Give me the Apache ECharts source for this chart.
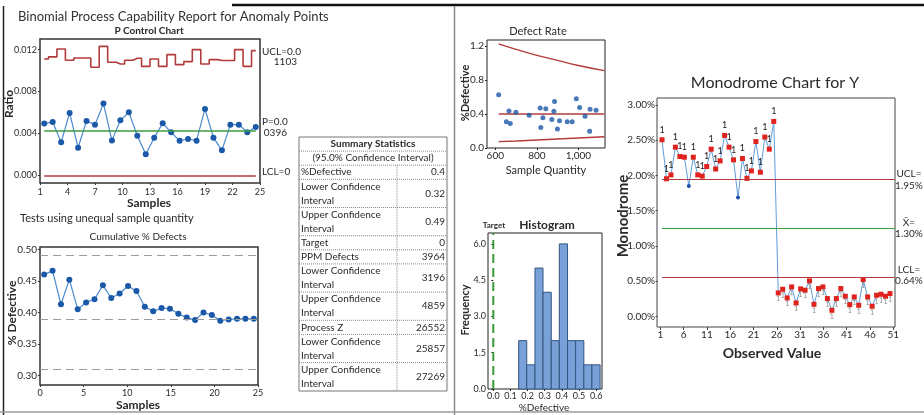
<!DOCTYPE html>
<html lang="en">
<head>
<meta charset="UTF-8">
<title>Binomial Process Capability Report for Anomaly Points</title>
<script src="https://cdn.jsdelivr.net/npm/echarts@6/dist/echarts.min.js"></script>
<style>
  html, body { margin: 0; padding: 0; background: #fff; }
  #main { width: 924px; height: 415px; }
</style>
</head>
<body>
<div id="main"></div>
<script>
// ---- fonts / colours ----
const NARROW = "Lato, 'Open Sans', sans-serif";
const NORMAL = "Lato, 'Open Sans', sans-serif";
const TXT = '#2a2a2a';
const RED = '#b23b3b';
const GREEN = '#3e9d3e';
const DOT = '#1b58a8';
const LINK = '#4a88cc';

// ---- P control chart ----
const pRatio = [0.00494, 0.00510, 0.00315, 0.00596, 0.00264, 0.00519, 0.00484, 0.00685, 0.00334, 0.00525,
                0.00602, 0.00379, 0.00201, 0.00360, 0.00497, 0.00411, 0.00331, 0.00347, 0.00331, 0.00634,
                0.00360, 0.00239, 0.00484, 0.00484, 0.00411, 0.00462];
const pUcl = [0.01111, 0.01131, 0.01207, 0.01099, 0.01121, 0.01121, 0.01032, 0.01232, 0.01080, 0.01064,
              0.01099, 0.01118, 0.01041, 0.01111, 0.01041, 0.01153, 0.01057, 0.01086, 0.01201, 0.01064,
              0.01105, 0.01096, 0.01096, 0.01201, 0.01041, 0.01191];
const pCenter = 0.0043;
const pLcl = 0;
const pYTicks = [0, 0.004, 0.008, 0.012];
const pCats = pRatio.map((v, i) => String(i + 1));

// ---- cumulative % defects ----
const cumPct = [0.460, 0.466, 0.413, 0.452, 0.405, 0.416, 0.421, 0.443, 0.423, 0.430,
                0.442, 0.434, 0.409, 0.402, 0.407, 0.406, 0.398, 0.392, 0.388, 0.400,
                0.396, 0.387, 0.389, 0.390, 0.390, 0.390];
const cumBands = [0.487, 0.390, 0.308];
const cumYTicks = [0.30, 0.35, 0.40, 0.45, 0.50];
const cumCats = cumPct.map((v, i) => String(i + 1));

// ---- defect rate ----
const rateQty = [616, 653, 666, 672, 699, 763, 816, 819, 829, 843, 872, 882, 885, 899, 909, 946, 970, 990, 1006, 1032, 1054, 1056, 1085];
const ratePct = [0.626, 0.308, 0.436, 0.289, 0.421, 0.386, 0.471, 0.242, 0.355, 0.463, 0.335, 0.432, 0.548, 0.223, 0.320, 0.308, 0.308, 0.579, 0.475, 0.374, 0.196, 0.455, 0.444];
const limitQty = [616, 700, 800, 900, 1000, 1125];
const rateUcl = [1.225, 1.16, 1.09, 1.03, 0.97, 0.91];
const rateLcl = [0.075, 0.083, 0.094, 0.106, 0.118, 0.132];
const rateCenter = 0.400;
const rateXTicks = [600, 800, 1000];
const rateYTicks = [0, 0.4, 0.8, 1.2];

// ---- histogram ----
const histEdges = [0.148, 0.195, 0.243, 0.290, 0.338, 0.385, 0.433, 0.480, 0.528, 0.575, 0.623];
const histCounts = [2, 1, 5, 4, 2, 6, 2, 2, 1, 1];
const histTarget = 0;
const histXTicks = [0, 0.1, 0.2, 0.3, 0.4, 0.5, 0.6];
const histYTicks = [0, 1.5, 3, 4.5, 6];

// ---- monodrome chart ----
const monoValues = [2.505, 1.952, 2.007, 2.40, 2.268, 2.258, 1.85, 2.258, 2.007, 1.99,
                    2.126, 2.372, 2.09, 2.206, 2.566, 2.40, 2.22, 1.685, 2.239, 1.958,
                    2.064, 2.48, 2.045, 2.543, 2.372, 2.765,
                    0.334, 0.386, 0.263, 0.419, 0.192, 0.391, 0.372, 0.505, 0.173, 0.396,
                    0.419, 0.254, 0.088, 0.254, 0.396, 0.287, 0.168, 0.277, 0.159, 0.524,
                    0.277, 0.145, 0.301, 0.315, 0.287, 0.325];
const monoUcl = 1.95;
const monoCenter = 1.25;
const monoLcl = 0.56;
const monoXTicks = [1, 6, 11, 16, 21, 26, 31, 36, 41, 46, 51];
const monoYTicks = [0, 0.5, 1, 1.5, 2, 2.5, 3];

// summary table
const tableHead = 'Summary Statistics';
const tableSub = '(95.0% Confidence Interval)';
const tableLabels = ['%Defective', 'Lower Confidence\nInterval', 'Upper Confidence\nInterval', 'Target', 'PPM Defects',
                     'Lower Confidence\nInterval', 'Upper Confidence\nInterval', 'Process Z',
                     'Lower Confidence\nInterval', 'Upper Confidence\nInterval'];
const tableValues = ['0.4', '0.32', '0.49', '0', '3964', '3196', '4859', '26552', '25857', '27269'];

let chart = echarts.init(document.getElementById('main'));

function label(size, family) {
    return { fontFamily: family || NARROW, fontSize: size, color: TXT };
}
function txt(text, x, y, font, opts) {
    return Object.assign({
        type: 'text', x: x, y: y,
        style: { text: text, font: font, fill: TXT, textAlign: 'center', textVerticalAlign: 'middle' }
    }, opts || {});
}
function ltxt(text, x, y, font, align) {
    return { type: 'text', x: x, y: y,
        style: { text: text, font: font, fill: TXT, textAlign: align || 'left', textVerticalAlign: 'middle' } };
}
function vtxt(text, x, y, font) {
    return txt(text, x, y, font, { rotation: Math.PI / 2 });
}

// table built from the arrays above
const TX0 = 299, TX1 = 447, TDIV = 397, TY0 = 137, RH = 14.1;
let tableEls = [];
let ty = TY0;
function hline(y) {
    tableEls.push({ type: 'line', shape: { x1: TX0, y1: y, x2: TX1, y2: y },
        style: { stroke: '#888', lineWidth: 1, lineDash: [1, 1] } });
}
tableEls.push({ type: 'rect', shape: { x: TX0, y: TY0, width: TX1 - TX0, height: 254 },
    style: { fill: '#fff', stroke: '#777', lineWidth: 1 } });
tableEls.push(txt(tableHead, (TX0 + TX1) / 2, ty + RH / 2, 'bold 10px ' + NARROW));
ty += RH; hline(ty);
tableEls.push(txt(tableSub, (TX0 + TX1) / 2, ty + RH / 2, '10px ' + NARROW));
ty += RH; hline(ty);
const divTop = ty;
tableLabels.forEach(function (lab, i) {
    const h = RH * lab.split('\n').length;
    tableEls.push({ type: 'text', x: TX0 + 2, y: ty + h / 2,
        style: { text: lab, font: '10px ' + NARROW, fill: TXT, lineHeight: RH, textAlign: 'left', textVerticalAlign: 'middle' } });
    tableEls.push({ type: 'text', x: TX1 - 2, y: ty + h / 2,
        style: { text: tableValues[i], font: '10px ' + NARROW, fill: TXT, textAlign: 'right', textVerticalAlign: 'middle' } });
    ty += h;
    if (i < tableLabels.length - 1) hline(ty);
});
tableEls.push({ type: 'line', shape: { x1: TDIV, y1: divTop, x2: TDIV, y2: ty },
    style: { stroke: '#888', lineWidth: 1, lineDash: [1, 1] } });

const gridBase = { show: true, backgroundColor: 'transparent', containLabel: false, outerBoundsMode: 'none' };
const noSplit = { show: false };

let option = {
    animation: false,
    grid: [
        Object.assign({ left: 40, top: 39, width: 220, height: 144, borderColor: '#333', borderWidth: 1.5 }, gridBase),
        Object.assign({ left: 40, top: 247, width: 218, height: 138, borderColor: '#333', borderWidth: 1.5 }, gridBase),
        Object.assign({ left: 487, top: 40, width: 118, height: 108, borderColor: '#222', borderWidth: 1 }, gridBase),
        Object.assign({ left: 488, top: 233, width: 114, height: 156, borderColor: '#222', borderWidth: 1 }, gridBase),
        Object.assign({ left: 657, top: 98, width: 238, height: 229, borderColor: '#444', borderWidth: 1 }, gridBase)
    ],
    xAxis: [
        { type: 'category', gridIndex: 0, data: pCats, show: false },
        { type: 'value', gridIndex: 0, position: 'bottom', min: 1, max: 25, interval: 3,
          axisLine: { show: false }, splitLine: noSplit,
          axisTick: { length: 2, lineStyle: { color: '#333' } },
          axisLabel: Object.assign(label(9), { margin: 5 }) },
        { type: 'category', gridIndex: 1, data: cumCats, show: false },
        { type: 'value', gridIndex: 1, position: 'bottom', min: 0, max: 25, interval: 5,
          axisLine: { show: false }, splitLine: noSplit,
          axisTick: { length: 2, lineStyle: { color: '#333' } },
          axisLabel: Object.assign(label(9), { margin: 4 }) },
        { type: 'value', gridIndex: 2, min: 560, max: 1128,
          axisLine: { show: false }, splitLine: noSplit,
          axisTick: { length: 2, customValues: rateXTicks, lineStyle: { color: '#222' } },
          axisLabel: Object.assign(label(10, NORMAL), { margin: 3, customValues: rateXTicks }) },
        { type: 'value', gridIndex: 3, min: -0.031, max: 0.634,
          axisLine: { show: false }, splitLine: noSplit,
          axisTick: { length: 2, customValues: histXTicks, lineStyle: { color: '#222' } },
          axisLabel: Object.assign(label(9), { margin: 3, customValues: histXTicks,
              formatter: function (v) { return v.toFixed(1); } }) },
        { type: 'value', gridIndex: 4, min: -0.12, max: 53.12, show: false },
        { type: 'value', gridIndex: 4, position: 'bottom', min: 0.29, max: 51.36,
          axisLine: { show: false }, splitLine: noSplit,
          axisTick: { length: 3, customValues: monoXTicks, lineStyle: { color: '#444' } },
          axisLabel: Object.assign(label(10, NORMAL), { margin: 3, customValues: monoXTicks }) }
    ],
    yAxis: [
        { type: 'value', gridIndex: 0, min: -0.00073, max: 0.01302,
          axisLine: { show: false }, splitLine: noSplit,
          axisTick: { length: 2, customValues: pYTicks, lineStyle: { color: '#333' } },
          axisLabel: Object.assign(label(9), { margin: 3, customValues: pYTicks,
              formatter: function (v) { return v.toFixed(3); } }) },
        { type: 'value', gridIndex: 1, min: 0.2853, max: 0.5037,
          axisLine: { show: false }, splitLine: noSplit,
          axisTick: { length: 2, customValues: cumYTicks, lineStyle: { color: '#333' } },
          axisLabel: Object.assign(label(10), { margin: 3, customValues: cumYTicks,
              formatter: function (v) { return v.toFixed(2); } }) },
        { type: 'value', gridIndex: 2, min: 0, max: 1.27,
          axisLine: { show: false }, splitLine: noSplit,
          axisTick: { length: 2, customValues: rateYTicks, lineStyle: { color: '#222' } },
          axisLabel: Object.assign(label(10, NORMAL), { margin: 3, customValues: rateYTicks,
              formatter: function (v) { return v.toFixed(1); } }) },
        { type: 'value', gridIndex: 3, min: 0, max: 6.45,
          axisLine: { show: false }, splitLine: noSplit,
          axisTick: { length: 2, customValues: histYTicks, lineStyle: { color: '#222' } },
          axisLabel: Object.assign(label(9), { margin: 2, customValues: histYTicks,
              formatter: function (v) { return v.toFixed(1); } }) },
        { type: 'value', gridIndex: 4, min: -0.149, max: 3.097,
          axisLine: { show: false }, splitLine: noSplit,
          axisTick: { length: 2, customValues: monoYTicks, lineStyle: { color: '#444' } },
          axisLabel: Object.assign(label(10, NORMAL), { margin: 2, customValues: monoYTicks,
              formatter: function (v) { return v.toFixed(2) + '%'; } }) }
    ],
    series: [
        // P chart
        { type: 'line', xAxisIndex: 0, yAxisIndex: 0, data: pUcl, step: 'middle', showSymbol: false, silent: true, z: 2,
          lineStyle: { color: RED, width: 1.6 },
          markLine: { silent: true, symbol: 'none', label: { show: false },
              data: [
                  [{ coord: [pCats[0], pCenter], lineStyle: { color: GREEN, width: 1.6, type: 'solid' } },
                   { coord: [pCats[pCats.length - 1], pCenter] }],
                  [{ coord: [pCats[0], pLcl], lineStyle: { color: RED, width: 1.6, type: 'solid' } },
                   { coord: [pCats[pCats.length - 1], pLcl] }]
              ] } },
        { type: 'line', xAxisIndex: 0, yAxisIndex: 0, data: pRatio, symbol: 'circle', symbolSize: 6, z: 3,
          showAllSymbol: true,
          itemStyle: { color: DOT }, lineStyle: { color: LINK, width: 1.2 } },

        // cumulative
        { type: 'line', xAxisIndex: 2, yAxisIndex: 1, data: [], z: 1,
          markLine: { silent: true, symbol: 'none', label: { show: false },
              lineStyle: { color: '#9c9c9c', width: 1.2, type: [8, 5] },
              data: cumBands.map(function (v) { return { yAxis: v }; }) } },
        { type: 'line', xAxisIndex: 2, yAxisIndex: 1, data: cumPct, symbol: 'circle', symbolSize: 6, z: 3,
          showAllSymbol: true,
          itemStyle: { color: DOT }, lineStyle: { color: LINK, width: 1.2 } },

        // defect rate
        { type: 'line', xAxisIndex: 4, yAxisIndex: 2, smooth: true, showSymbol: false, z: 2,
          data: limitQty.map(function (q, i) { return [q, rateUcl[i]]; }),
          lineStyle: { color: RED, width: 1.4 } },
        { type: 'line', xAxisIndex: 4, yAxisIndex: 2, smooth: true, showSymbol: false, z: 2,
          data: limitQty.map(function (q, i) { return [q, rateLcl[i]]; }),
          lineStyle: { color: RED, width: 1.4 } },
        { type: 'line', xAxisIndex: 4, yAxisIndex: 2, showSymbol: false, z: 2,
          data: [[limitQty[0], rateCenter], [limitQty[limitQty.length - 1], rateCenter]],
          lineStyle: { color: RED, width: 1.4 } },
        { type: 'scatter', xAxisIndex: 4, yAxisIndex: 2, symbolSize: 5, z: 3,
          data: rateQty.map(function (q, i) { return [q, ratePct[i]]; }),
          itemStyle: { color: DOT } },

        // histogram
        { type: 'custom', xAxisIndex: 5, yAxisIndex: 3, z: 2,
          data: histCounts.map(function (c, i) { return [histEdges[i], histEdges[i + 1], c]; }),
          encode: { x: [0, 1], y: 2 },
          renderItem: function (params, api) {
              const p0 = api.coord([api.value(0), api.value(2)]);
              const p1 = api.coord([api.value(1), 0]);
              return { type: 'rect',
                  shape: { x: p0[0], y: p0[1], width: p1[0] - p0[0], height: p1[1] - p0[1] },
                  style: { fill: '#78a1d8', stroke: '#34557f', lineWidth: 1 } };
          } },
        { type: 'line', xAxisIndex: 5, yAxisIndex: 3, showSymbol: false, z: 4,
          data: [[histTarget, 0], [histTarget, 6.45]],
          lineStyle: { color: '#3a9a3a', width: 2, type: [9, 5] } },

        // monodrome
        { type: 'line', xAxisIndex: 6, yAxisIndex: 4, data: [], z: 1,
          markLine: { silent: true, symbol: 'none', label: { show: false },
              data: [
                  [{ coord: [1, monoUcl], lineStyle: { color: RED, width: 1.2, type: 'solid' } }, { coord: [53.12, monoUcl] }],
                  [{ coord: [1, monoCenter], lineStyle: { color: GREEN, width: 1.2, type: 'solid' } }, { coord: [53.12, monoCenter] }],
                  [{ coord: [1, monoLcl], lineStyle: { color: RED, width: 1.2, type: 'solid' } }, { coord: [53.12, monoLcl] }]
              ] } },
        { type: 'line', xAxisIndex: 6, yAxisIndex: 4, z: 3, showAllSymbol: true,
          lineStyle: { color: '#5f9ddb', width: 1 },
          data: monoValues.map(function (v, i) {
              const high = v > monoUcl, low = v < monoLcl;
              const out = high || low;
              return {
                  value: [i + 1, v],
                  symbol: out ? 'rect' : 'circle',
                  symbolSize: out ? 5 : 4,
                  itemStyle: { color: out ? '#e0221c' : '#1f4fa8' },
                  label: out ? {
                      show: true, formatter: '1',
                      position: high ? 'top' : 'bottom',
                      distance: high ? 3 : 0,
                      fontFamily: NORMAL,
                      fontSize: high ? 9 : 7,
                      color: high ? '#222' : '#888'
                  } : { show: false }
              };
          }) }
    ],
    graphic: [
        // page frame
        { type: 'line', shape: { x1: 232, y1: 5, x2: 924, y2: 5 }, style: { stroke: '#111', lineWidth: 2.5 } },
        { type: 'line', shape: { x1: 3.5, y1: 6, x2: 3.5, y2: 415 }, style: { stroke: '#222', lineWidth: 1.5 } },
        { type: 'line', shape: { x1: 454.5, y1: 6, x2: 454.5, y2: 415 }, style: { stroke: '#8a8a8a', lineWidth: 1.5 } },
        { type: 'line', shape: { x1: 0, y1: 412, x2: 924, y2: 412 }, style: { stroke: '#9a9a9a', lineWidth: 1.5 } },

        // left panel
        { type: 'text', x: 18, y: 17, style: { text: 'Binomial Process Capability Report for Anomaly Points',
            font: '13px ' + NARROW, fill: '#333', textAlign: 'left', textVerticalAlign: 'middle' } },
        txt('P Control Chart', 149, 31, 'bold 10px ' + NARROW),
        txt('Samples', 149, 203, 'bold 12px ' + NARROW),
        vtxt('Ratio', 9, 104, 'bold 12px ' + NARROW),
        ltxt('UCL=0.0', 262, 52, '10px ' + NARROW),
        ltxt('1103', 297, 62, '10px ' + NARROW, 'right'),
        ltxt('P=0.0', 262, 122, '10px ' + NARROW),
        ltxt('0396', 287, 133, '10px ' + NARROW, 'right'),
        ltxt('LCL=0', 262, 172, '10px ' + NARROW),
        ltxt('Tests using unequal sample quantity', 20, 218, '11px ' + NARROW),
        txt('Cumulative % Defects', 138, 237, '10px ' + NARROW),
        txt('Samples', 138, 405, 'bold 12px ' + NARROW),
        vtxt('% Defective', 12, 313, 'bold 12px ' + NARROW),

        // middle panel
        txt('Defect Rate', 538, 31, '11px ' + NORMAL),
        vtxt('%Defective', 465, 93, 'bold 11px ' + NORMAL),
        txt('Sample Quantity', 546, 170, '11px ' + NORMAL),
        txt('Target', 494, 225, 'bold 8px ' + NARROW),
        txt('Histogram', 547, 225, 'bold 12px ' + NORMAL),
        vtxt('Frequency', 465, 310, 'bold 11px ' + NORMAL),
        txt('%Defective', 544, 408, '10px ' + NARROW),

        // right panel
        txt('Monodrome Chart for Y', 775, 83, '16px ' + NORMAL),
        vtxt('Monodrome', 623, 216, 'bold 15px ' + NORMAL),
        txt('Observed Value', 772, 353, 'bold 14px ' + NORMAL),
        txt('UCL=', 909, 174, '10px ' + NORMAL),
        txt('1.95%', 909, 186, '10px ' + NORMAL),
        txt('X\u0304=', 909, 223, '10px ' + NORMAL),
        txt('1.30%', 909, 234, '10px ' + NORMAL),
        txt('LCL=', 909, 270, '10px ' + NORMAL),
        txt('0.64%', 909, 281, '10px ' + NORMAL)
    ].concat(tableEls)
};
chart.setOption(option);
</script>
</body>
</html>
